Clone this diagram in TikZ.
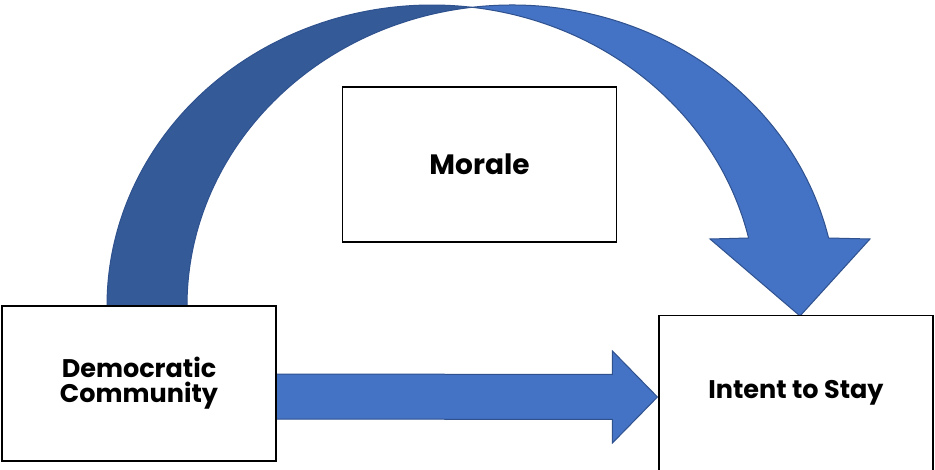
\documentclass[tikz,border=0pt]{standalone}
\usepackage{fontspec}
\setmainfont{Poppins}
\usetikzlibrary{calc}
\definecolor{lightblue}{HTML}{4472C4}
\definecolor{darkblue}{HTML}{345A98}
\definecolor{edgeblue}{HTML}{2F528F}
\tikzset{
  box/.style={draw=black, line width=1.1pt, fill=white, minimum width=274pt, minimum height=155pt, inner sep=0pt, align=center, font=\bfseries\fontsize{25.5}{27}\selectfont},
  band/.style={draw=edgeblue, line width=1pt, line join=miter},
}
\begin{document}
\begin{tikzpicture}[x=1pt,y=1pt]
\useasboundingbox (0,0) rectangle (935,469);
\clip (0,0) rectangle (935,469);
\fill[white] (0,0) rectangle (935,469);
% node centres
\coordinate (dcC) at (139,85.5);
\coordinate (moC) at (479.5,304.5);
\coordinate (itC) at (796,76);
% curved arrow: two equal ellipses shifted by the band thickness
\coordinate (cA) at (432,163);
\coordinate (cB) at (512,163);
% dark (rising) part
\fill[darkblue] ($(cA)+(-325,-20)$) -- ($(cA)+(-325,0)$)
  arc[start angle=180, end angle=82.9, x radius=325, y radius=301]
  -- ($(cB)+({325*cos(97.1)},{301*sin(97.1)})$)
  arc[start angle=97.1, end angle=180, x radius=325, y radius=301]
  -- ($(cB)+(-325,-20)$) -- cycle;
\draw[band] ($(cA)+(-325,-20)$) -- ($(cA)+(-325,0)$)
  arc[start angle=180, end angle=82.9, x radius=325, y radius=301];
\draw[band] ($(cB)+(-325,-20)$) -- ($(cB)+(-325,0)$)
  arc[start angle=180, end angle=97.1, x radius=325, y radius=301];
% light (falling) part with head
\coordinate (headtip) at ($(itC)+(4,77)$);
\filldraw[band, fill=lightblue] ($(cB)+({325*cos(97.1)},{301*sin(97.1)})$)
  arc[start angle=97.1, end angle=13.06, x radius=325, y radius=301]
  -- ($(headtip)+(70,77)$) -- (headtip) -- ($(headtip)+(-90,77)$)
  -- ($(cA)+({325*cos(13.06)},{301*sin(13.06)})$)
  arc[start angle=13.06, end angle=82.9, x radius=325, y radius=301] -- cycle;
% boxes
\node[box] (dc) at (dcC) {Democratic\\[-2pt]Community};
\node[box, font=\bfseries\fontsize{28}{32}\selectfont] (mo) at (moC) {Morale};
\node[box] (it) at (itC) {Intent to Stay};
% straight block arrow from dc to it
\coordinate (s0) at ($(dc.east)+(0,-13)$);
\coordinate (t0) at ($(it.west)+(-1,-4)$);
\filldraw[band, fill=lightblue] ($(s0)+(0,22.5)$) -- ($(t0)+(-45,22.5)$) -- ($(t0)+(-45,46)$)
  -- (t0) -- ($(t0)+(-45,-46)$) -- ($(t0)+(-45,-22.5)$) -- ($(s0)+(0,-22.5)$);
\draw[black, line width=1.1pt] (dc.north east) -- (dc.south east);
\end{tikzpicture}
\end{document}
